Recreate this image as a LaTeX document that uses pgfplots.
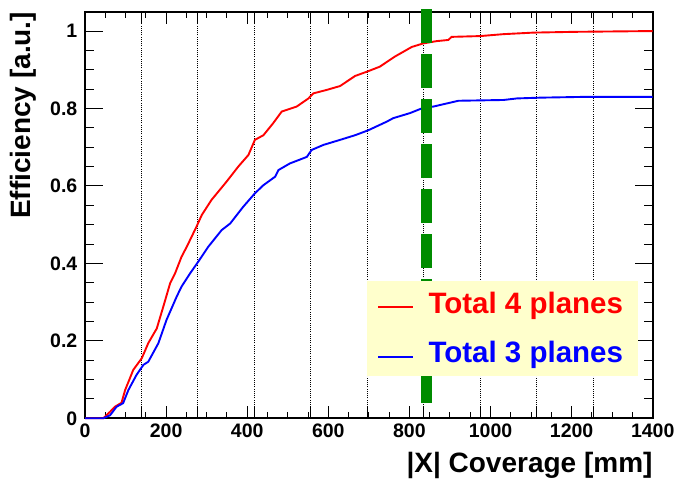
\documentclass[border=0pt]{standalone}
\usepackage{fontspec}
\setmainfont{Liberation Sans}
\usepackage{pgfplots}
\usepackage{pgfplotstable}
\pgfplotsset{compat=1.18}
\definecolor{rootgreen}{RGB}{0,140,0}
\definecolor{legyellow}{RGB}{255,255,204}
\tikzset{legtext/.style={anchor=base west, inner sep=0pt,
    font=\fontsize{29.5}{31}\selectfont\bfseries}}

% cumulative efficiency
\pgfplotstableread{
x y
0 0
45 0
62 0.017
74 0.030
90 0.040
99 0.073
119 0.125
140 0.155
156 0.194
177 0.232
193 0.288
210 0.349
222 0.374
238 0.417
251 0.443
275 0.495
288 0.525
312 0.564
349 0.611
378 0.650
403 0.680
419 0.719
440 0.731
464 0.762
485 0.792
522 0.805
551 0.826
563 0.839
596 0.848
629 0.858
666 0.884
695 0.895
727 0.908
764 0.934
806 0.959
834 0.968
867 0.974
896 0.977
904 0.985
974 0.987
1032 0.992
1106 0.996
1208 0.998
1400 1.000
}\fourplanes

\pgfplotstableread{
x y
0 0
45 0
62 0.008
78 0.030
94 0.039
107 0.073
127 0.112
144 0.138
156 0.146
181 0.194
201 0.254
226 0.314
238 0.340
259 0.374
279 0.404
304 0.443
337 0.486
358 0.503
390 0.546
419 0.581
440 0.602
469 0.624
477 0.641
505 0.658
547 0.675
559 0.693
588 0.706
629 0.719
666 0.731
699 0.744
744 0.766
760 0.775
801 0.788
830 0.800
859 0.805
892 0.813
921 0.820
1032 0.822
1065 0.826
1122 0.828
1229 0.830
1400 0.830
}\threeplanes

\begin{document}
\begin{tikzpicture}
\useasboundingbox (0,0) rectangle (679pt,481pt);
\begin{axis}[
    at={(85pt,62.7pt)}, anchor=south west,
    scale only axis, width=567.7pt, height=406.6pt,
    xmin=0, xmax=1400, ymin=0, ymax=1.05,
    clip=false,
    axis line style={line width=2pt},
    xtick={0,200,...,1400}, minor x tick num=3,
    ytick={0,0.2,0.4,0.6,0.8,1}, minor y tick num=3,
    tick style={black, line width=1pt},
    xtick style={/pgfplots/major tick length=12pt, /pgfplots/minor tick length=6.7pt},
    ytick style={/pgfplots/major tick length=17.7pt, /pgfplots/minor tick length=9pt},
    extra x ticks={139.2,278.4,417.6,556.8,696,835.2,974.4,1113.6,1252.8},
    extra x tick labels={},
    extra x tick style={grid=major, /pgfplots/major tick length=0pt,
      grid style={black, line width=0.8pt, dash pattern=on 1pt off 1.2pt}},
    scaled ticks=false,
    /pgf/number format/1000 sep={},
    /pgf/number format/assume math mode=true,
    tick label style={font=\fontsize{19.5}{21}\selectfont\bfseries},
    xticklabel style={anchor=north, inner sep=0pt, yshift=-5.7pt},
    yticklabel style={anchor=east, inner sep=0pt, xshift=-7.5pt},
    xlabel={|X| Coverage [mm]},
    ylabel={Efficiency [a.u.]},
    label style={font=\fontsize{28}{30}\selectfont\bfseries},
    xlabel style={at={(rel axis cs:1,0)}, anchor=base east, inner sep=0pt, yshift=-54.7pt},
    ylabel style={at={(rel axis cs:0,1)}, anchor=base east, inner sep=0pt, yshift=55pt},
  ]
  \addplot[red, line width=1.9pt] table[x=x, y=y] {\fourplanes};
  \addplot[blue, line width=1.9pt] table[x=x, y=y] {\threeplanes};
  % cut position
  \addplot[rootgreen, line width=11pt, dash pattern=on 34pt off 11pt]
    coordinates {(842.2,1.056) (842.2,0.0343)};
  % legend box
  \addplot[fill=legyellow, draw=none]
    coordinates {(696.2,0.110) (1364.5,0.110) (1364.5,0.3545) (696.2,0.3545)} -- cycle;
  \addplot[red, line width=2pt] coordinates {(723,0.2866) (809.6,0.2866)};
  \addplot[blue, line width=2pt] coordinates {(723,0.159) (809.6,0.159)};
  \node[legtext, text=red] at (axis cs:846.6,0.2711) {Total 4 planes};
  \node[legtext, text=blue] at (axis cs:846.6,0.1436) {Total 3 planes};
\end{axis}
\end{tikzpicture}
\end{document}
